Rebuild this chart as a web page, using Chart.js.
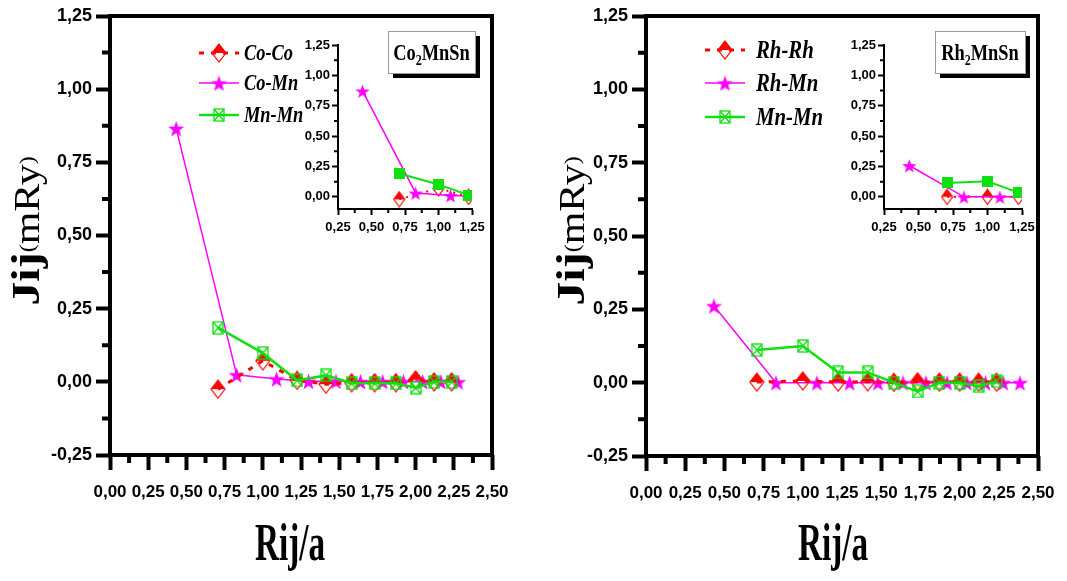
<!DOCTYPE html>
<html>
<head>
<meta charset="utf-8">
<script src="https://cdn.jsdelivr.net/npm/chart.js@4"></script>
<style>
  html, body { margin: 0; padding: 0; background: #fff; }
  #wrap { position: relative; width: 1067px; height: 581px; overflow: hidden; background: #fff; }
  #wrap canvas { position: absolute; }
</style>
</head>
<body>
<div id="wrap">
  <canvas id="mainCo" width="533" height="581" style="left:0;top:0"></canvas>
  <canvas id="mainRh" width="534" height="581" style="left:533px;top:0"></canvas>
  <canvas id="insetCo" width="200" height="210" style="left:290px;top:30px"></canvas>
  <canvas id="insetRh" width="204" height="210" style="left:836px;top:30px"></canvas>
</div>
<script>
// neighbour distances Rij/a
const rXX = [0.707, 1.000, 1.225, 1.414, 1.581, 1.732, 1.871, 2.000, 2.121, 2.236];
const rXMn = [0.433, 0.829, 1.090, 1.299, 1.479, 1.639, 1.785, 1.920, 2.046, 2.165, 2.278];
const rRhMn = [0.433, 0.829, 1.090, 1.299, 1.479, 1.639, 1.785, 1.920, 2.046, 2.165, 2.278, 2.385];

// exchange constants Jij (mRy), Co2MnSn
const jCoCo = [-0.025, 0.072, 0.005, -0.008, -0.003, -0.003, -0.003, 0.007, 0.000, 0.000];
const jCoMn = [0.866, 0.024, 0.010, 0.002, 0.002, 0.001, 0.001, 0.001, 0.001, 0.001, 0.000];
const jMnMnCo = [0.185, 0.098, 0.005, 0.022, -0.005, -0.005, -0.005, -0.020, 0.000, 0.000];

// exchange constants Jij (mRy), Rh2MnSn
const jRhRh = [0.002, 0.006, 0.002, 0.003, 0.001, 0.003, 0.002, 0.002, 0.002, 0.002];
const jRhMn = [0.262, 0.000, 0.000, 0.000, 0.000, 0.000, 0.000, 0.000, 0.000, 0.000, 0.000, 0.000];
const jMnMnRh = [0.111, 0.125, 0.035, 0.035, 0.000, -0.030, 0.000, 0.000, -0.012, 0.005];

// short range close-ups
const rInsetXX = [0.707, 1.000, 1.225];
const rInsetXMn = [0.433, 0.829, 1.090, 1.299];
const jCoCoInset = [-0.020, 0.070, 0.000];
const jCoMnInset = [0.872, 0.032, 0.012, 0.005];
const jMnMnCoInset = [0.192, 0.102, 0.014];
const jRhRhInset = [0.000, 0.000, 0.000];
const jRhMnInset = [0.258, 0.000, 0.000, 0.000];
const jMnMnRhInset = [0.115, 0.128, 0.035];

// ticks
const mainXTicks = [0, 0.25, 0.5, 0.75, 1, 1.25, 1.5, 1.75, 2, 2.25, 2.5];
const mainXMinor = [0.125, 0.375, 0.625, 0.875, 1.125, 1.375, 1.625, 1.875, 2.125, 2.375];
const mainYTicks = [-0.25, 0, 0.25, 0.5, 0.75, 1, 1.25];
const mainYMinor = [-0.125, 0.125, 0.375, 0.625, 0.875, 1.125];
const insetXTicks = [0.25, 0.5, 0.75, 1, 1.25];
const insetXMinor = [0.375, 0.625, 0.875, 1.125];
const insetYTicks = [0, 0.25, 0.5, 0.75, 1, 1.25];
const insetYMinor = [0.125, 0.375, 0.625, 0.875, 1.125];

const RED = '#ff0000', MAG = '#ff00ff', GRN = '#10e010';
const SANS = "'Liberation Sans Narrow', 'Liberation Sans', Arial, sans-serif";
const SERIF = "'Liberation Serif', 'DejaVu Serif', serif";

// ---- marker images ----
function mk(w, h) {
  const c = document.createElement('canvas');
  c.width = w; c.height = h;
  return [c, c.getContext('2d')];
}
function halfDiamond(color, w, h) {
  const [c, g] = mk(w + 2, h + 2);
  const cx = c.width / 2, cy = c.height / 2;
  g.beginPath(); g.moveTo(cx, 1); g.lineTo(cx + w / 2, cy); g.lineTo(cx - w / 2, cy); g.closePath();
  g.fillStyle = color; g.fill();
  g.beginPath(); g.moveTo(cx, 1); g.lineTo(cx + w / 2, cy); g.lineTo(cx, cy + h / 2); g.lineTo(cx - w / 2, cy); g.closePath();
  g.strokeStyle = color; g.lineWidth = 1.2; g.stroke();
  return c;
}
function star(color, ro, ri) {
  const s = Math.ceil(ro * 2) + 2;
  const [c, g] = mk(s, s);
  g.beginPath();
  for (let i = 0; i < 10; i++) {
    const r = i % 2 ? ri : ro, a = -Math.PI / 2 + i * Math.PI / 5;
    g.lineTo(s / 2 + r * Math.cos(a), s / 2 + 1 + r * Math.sin(a));
  }
  g.closePath(); g.fillStyle = color; g.fill();
  return c;
}
function crossedSquare(color, w, h) {
  const [c, g] = mk(w + 2, h + 2);
  g.strokeStyle = color; g.lineWidth = 1.3;
  g.strokeRect(1, 1, w, h);
  g.beginPath(); g.moveTo(1, 1); g.lineTo(w + 1, h + 1); g.moveTo(w + 1, 1); g.lineTo(1, h + 1); g.stroke();
  return c;
}
function filledSquare(color, s) {
  const [c, g] = mk(s, s);
  g.fillStyle = color; g.fillRect(0, 0, s, s);
  return c;
}

const mDiamond = halfDiamond(RED, 14, 18);
const mStar = star(MAG, 8.5, 3.4);
const mCross = crossedSquare(GRN, 10, 12);
const mDiamondSmall = halfDiamond(RED, 11, 15);
const mStarSmall = star(MAG, 7.5, 3);
const mSquare = filledSquare(GRN, 11);

function series(label, xs, ys, color, width, dash, marker, order) {
  return {
    label, order,
    data: xs.map((x, i) => ({ x, y: ys[i] })),
    borderColor: color, backgroundColor: color,
    borderWidth: width, borderDash: dash,
    pointStyle: marker, pointRadius: 6,
    tension: 0, clip: 0
  };
}

const fmt = v => Number(v).toFixed(2).replace('.', ',');
const fixTicks = arr => s => { s.ticks = arr.map(v => ({ value: v })); };

// ---- plugins ----
const framePlugin = {
  id: 'frame',
  afterDatasetsDraw(chart, args, o) {
    if (!o.on) return;
    const a = chart.chartArea, ctx = chart.ctx;
    ctx.save();
    ctx.strokeStyle = '#000'; ctx.lineWidth = 4;
    ctx.strokeRect(a.left, a.top, a.right - a.left, a.bottom - a.top);
    ctx.restore();
  }
};

const minorTicksPlugin = {
  id: 'minorTicks',
  afterDraw(chart, args, o) {
    const a = chart.chartArea, ctx = chart.ctx;
    ctx.save();
    ctx.strokeStyle = '#000'; ctx.lineWidth = o.width; ctx.lineCap = 'butt';
    ctx.beginPath();
    (o.x || []).forEach(v => {
      const px = chart.scales.x.getPixelForValue(v);
      ctx.moveTo(px, a.bottom); ctx.lineTo(px, a.bottom + o.len);
    });
    (o.y || []).forEach(v => {
      const py = chart.scales.y.getPixelForValue(v);
      ctx.moveTo(a.left, py); ctx.lineTo(a.left - o.len, py);
    });
    ctx.stroke();
    ctx.restore();
  }
};

const titlesPlugin = {
  id: 'titles',
  afterDraw(chart, args, o) {
    if (!o.x) return;
    const ctx = chart.ctx;
    ctx.save();
    ctx.fillStyle = '#000';
    // x title
    ctx.translate(o.x[0], o.x[1]);
    ctx.scale(0.64, 1);
    ctx.font = 'bold 52px ' + SERIF;
    ctx.textAlign = 'center'; ctx.textBaseline = 'alphabetic';
    ctx.fillText('Rij/a', 0, 0);
    ctx.restore();
    // y title, read bottom to top
    ctx.save();
    ctx.fillStyle = '#000';
    ctx.translate(o.y[0], o.y[1]);
    ctx.rotate(-Math.PI / 2);
    ctx.scale(1, 0.85);
    const parts = [
      ['bold 48px ' + SERIF, 'Jij', 0],
      ['24px ' + SERIF, '(', -6],
      ['42px ' + SERIF, 'mRy', 0],
      ['24px ' + SERIF, ')', -6]
    ];
    let total = 0;
    parts.forEach(p => { ctx.font = p[0]; total += ctx.measureText(p[1]).width; });
    let x = -total / 2;
    ctx.textAlign = 'left'; ctx.textBaseline = 'alphabetic';
    parts.forEach(p => {
      ctx.font = p[0];
      ctx.fillText(p[1], x, 14 + p[2]);
      x += ctx.measureText(p[1]).width;
    });
    ctx.restore();
  }
};

const seriesKeyPlugin = {
  id: 'seriesKey',
  afterDraw(chart, args, o) {
    if (!o.ys) return;
    const ctx = chart.ctx;
    chart.data.datasets.forEach((ds, i) => {
      const y = o.ys[i];
      ctx.save();
      ctx.strokeStyle = ds.borderColor; ctx.lineWidth = ds.borderWidth;
      ctx.setLineDash(ds.borderDash || []);
      ctx.beginPath(); ctx.moveTo(o.x0, y); ctx.lineTo(o.x1, y); ctx.stroke();
      const m = ds.pointStyle, mx = (o.x0 + o.x1) / 2;
      ctx.drawImage(m, mx - m.width / 2, y - m.height / 2);
      ctx.translate(o.tx, y);
      ctx.scale(o.squeeze, 1);
      ctx.fillStyle = '#000';
      ctx.font = o.font;
      ctx.textAlign = 'left'; ctx.textBaseline = 'middle';
      ctx.fillText(ds.label, 0, 1);
      ctx.restore();
    });
  }
};

const compoundBoxPlugin = {
  id: 'compoundBox',
  afterDraw(chart, args, o) {
    if (!o.parts) return;
    const ctx = chart.ctx;
    ctx.save();
    ctx.fillStyle = '#000';
    ctx.fillRect(o.x + 5, o.y + 5, o.w, o.h);
    ctx.fillStyle = '#fff';
    ctx.fillRect(o.x, o.y, o.w, o.h);
    ctx.strokeStyle = '#9a9a9a'; ctx.lineWidth = 1;
    ctx.strokeRect(o.x + 0.5, o.y + 0.5, o.w, o.h);
    const sq = 0.8;
    let total = 0;
    o.parts.forEach(p => {
      ctx.font = p[1] ? '15px ' + SERIF : 'bold 23px ' + SERIF;
      total += ctx.measureText(p[0]).width * sq;
    });
    let x = o.x + o.w / 2 - total / 2;
    const base = o.y + o.h / 2 + 8;
    ctx.fillStyle = '#000'; ctx.textBaseline = 'alphabetic';
    o.parts.forEach(p => {
      ctx.font = p[1] ? 'bold 15px ' + SERIF : 'bold 23px ' + SERIF;
      ctx.save();
      ctx.translate(x, base + (p[1] ? 5 : 0));
      ctx.scale(sq, 1);
      ctx.fillText(p[0], 0, 0);
      ctx.restore();
      x += ctx.measureText(p[0]).width * sq;
    });
    ctx.restore();
  }
};

Chart.register(framePlugin, minorTicksPlugin, titlesPlugin, seriesKeyPlugin, compoundBoxPlugin);

function mainOptions(yWidth, pad, extra) {
  return {
    responsive: false, animation: false, events: [],
    layout: { padding: pad },
    plugins: Object.assign({
      legend: { display: false }, tooltip: { enabled: false },
      frame: { on: true },
      minorTicks: { x: mainXMinor, y: mainYMinor, len: 8, width: 4 }
    }, extra),
    scales: {
      x: {
        type: 'linear', min: 0, max: 2.5,
        afterBuildTicks: fixTicks(mainXTicks),
        afterFit: s => { s.height = 60; },
        ticks: { callback: fmt, color: '#000', font: { family: SANS, size: 17, weight: 'bold' }, padding: 12, maxRotation: 0, autoSkip: false },
        grid: { drawOnChartArea: false, tickLength: 15, tickWidth: 4, tickColor: '#000' },
        border: { display: false }
      },
      y: {
        type: 'linear', min: -0.25, max: 1.25,
        afterBuildTicks: fixTicks(mainYTicks),
        afterFit: s => { s.width = yWidth; },
        ticks: { callback: fmt, color: '#000', font: { family: SANS, size: 18, weight: 'bold' }, padding: 4, autoSkip: false },
        grid: { drawOnChartArea: false, tickLength: 14, tickWidth: 4, tickColor: '#000' },
        border: { display: false }
      }
    }
  };
}

function insetOptions(pad) {
  const tickFont = { family: SANS, size: 13, weight: 'bold' };
  return {
    responsive: false, animation: false, events: [],
    layout: { padding: pad },
    plugins: {
      legend: { display: false }, tooltip: { enabled: false },
      minorTicks: { x: insetXMinor, y: insetYMinor, len: 4, width: 2 }
    },
    scales: {
      x: {
        type: 'linear', min: 0.25, max: 1.25,
        afterBuildTicks: fixTicks(insetXTicks),
        afterFit: s => { s.height = 25; },
        ticks: { callback: fmt, color: '#000', font: tickFont, padding: 5, maxRotation: 0, autoSkip: false },
        grid: { drawOnChartArea: false, tickLength: 6, tickWidth: 2, tickColor: '#000' },
        border: { display: true, width: 2, color: '#000' }
      },
      y: {
        type: 'linear', min: -0.1, max: 1.25,
        afterBuildTicks: fixTicks(insetYTicks),
        afterFit: s => { s.width = 48; },
        ticks: { callback: fmt, color: '#000', font: tickFont, padding: 2, autoSkip: false },
        grid: { drawOnChartArea: false, tickLength: 6, tickWidth: 2, tickColor: '#000' },
        border: { display: true, width: 2, color: '#000' }
      }
    }
  };
}

new Chart(document.getElementById('mainCo'), {
  type: 'line',
  data: {
    datasets: [
      series('Co-Co', rXX, jCoCo, RED, 3, [5, 7], mDiamond, 1),
      series('Co-Mn', rXMn, jCoMn, MAG, 1.5, [], mStar, 2),
      series('Mn-Mn', rXX, jMnMnCo, GRN, 2.5, [], mCross, 0)
    ]
  },
  options: mainOptions(110, { left: 0, right: 41, top: 16, bottom: 66 }, {
    titles: { x: [290, 560], y: [27, 231] },
    seriesKey: { x0: 199, x1: 239, tx: 244, ys: [53, 83, 115], font: 'italic bold 23px ' + SERIF, squeeze: 0.8 },
    compoundBox: { x: 388, y: 31, w: 87, h: 42, parts: [['Co', false], ['2', true], ['MnSn', false]] }
  })
});

new Chart(document.getElementById('mainRh'), {
  type: 'line',
  data: {
    datasets: [
      series('Rh-Rh', rXX, jRhRh, RED, 3, [5, 7], mDiamond, 1),
      series('Rh-Mn', rRhMn, jRhMn, MAG, 1.5, [], mStar, 2),
      series('Mn-Mn', rXX, jMnMnRh, GRN, 2.5, [], mCross, 0)
    ]
  },
  options: mainOptions(113, { left: 0, right: 29, top: 16, bottom: 65 }, {
    titles: { x: [300, 560], y: [39, 231] },
    seriesKey: { x0: 172, x1: 212, tx: 223, ys: [50, 83, 117], font: 'italic bold 26px ' + SERIF, squeeze: 0.8 },
    compoundBox: { x: 402, y: 31, w: 90, h: 42, parts: [['Rh', false], ['2', true], ['MnSn', false]] }
  })
});

new Chart(document.getElementById('insetCo'), {
  type: 'line',
  data: {
    datasets: [
      series('Co-Co', rInsetXX, jCoCoInset, RED, 2, [2, 5], mDiamondSmall, 2),
      series('Co-Mn', rInsetXMn, jCoMnInset, MAG, 1.5, [], mStarSmall, 1),
      series('Mn-Mn', rInsetXX, jMnMnCoInset, GRN, 2, [], mSquare, 0)
    ]
  },
  options: insetOptions({ left: 0, right: 18, top: 15, bottom: 6 })
});

new Chart(document.getElementById('insetRh'), {
  type: 'line',
  data: {
    datasets: [
      series('Rh-Rh', rInsetXX, jRhRhInset, RED, 2, [2, 5], mDiamondSmall, 2),
      series('Rh-Mn', rInsetXMn, jRhMnInset, MAG, 1.5, [], mStarSmall, 1),
      series('Mn-Mn', rInsetXX, jMnMnRhInset, GRN, 2, [], mSquare, 0)
    ]
  },
  options: insetOptions({ left: 0, right: 18, top: 15, bottom: 6 })
});
</script>
</body>
</html>
